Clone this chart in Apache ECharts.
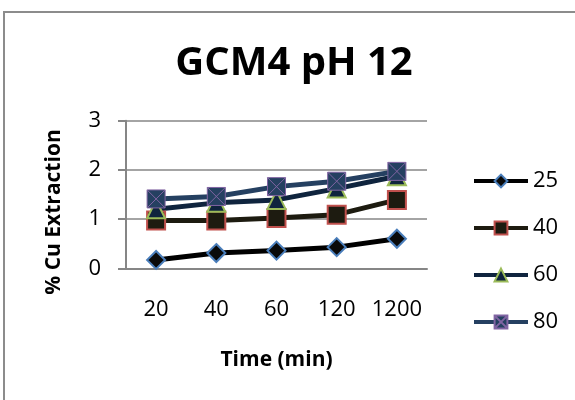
<!DOCTYPE html>
<html><head><meta charset="utf-8">
<script src="https://cdn.jsdelivr.net/npm/echarts@6/dist/echarts.min.js"></script>
<style>html,body{margin:0;padding:0;background:#fff}#c{width:575px;height:400px}</style>
</head><body><div id="c"></div>
<script>
const categories = ['20', '40', '60', '120', '1200'];
const seriesNames = ['25', '40', '60', '80'];
const s25 = [0.17, 0.31, 0.36, 0.43, 0.60];
const s40 = [0.97, 0.97, 1.02, 1.09, 1.39];
const s60 = [1.20, 1.33, 1.39, 1.62, 1.87];
const s80 = [1.41, 1.46, 1.66, 1.77, 1.97];
const yMin = 0, yMax = 3, yStep = 1;
const titleText = 'GCM4 pH 12';
const xTitle = 'Time (min)';
const yTitle = '% Cu Extraction';

const FONT = '"Open Sans", "Liberation Sans", sans-serif';
const xMarker = 'path://M0,0 L10,0 L10,10 L0,10 Z M0,0 L10,10 M10,0 L0,10';

const chart = echarts.init(document.getElementById('c'), null, {renderer: 'canvas'});
chart.setOption({
  animation: false,
  backgroundColor: '#fff',
  title: {
    text: titleText, left: 289, top: 39, textAlign: 'center',
    textStyle: {fontFamily: FONT, fontWeight: 'bold', fontSize: 40, color: '#000'}
  },
  graphic: [
    {type: 'rect', shape: {x: 4, y: 12, width: 640, height: 440}, style: {fill: 'none', stroke: '#8c8c8c', lineWidth: 2}, silent: true},
    {type: 'text', x: 54, y: 212, rotation: Math.PI / 2,
     style: {text: yTitle, font: 'bold 21px ' + FONT, fill: '#000', textAlign: 'center', textVerticalAlign: 'middle'}}
  ],
  legend: {
    orient: 'vertical', left: 467, top: 165, itemWidth: 54, itemHeight: 16, itemGap: 25,
    data: seriesNames,
    lineStyle: {width: 4},
    textStyle: {fontFamily: FONT, fontSize: 22, color: '#000'}
  },
  grid: {left: 126, right: 148, top: 120.7, bottom: 131.7, containLabel: false},
  xAxis: {
    type: 'category', data: categories, boundaryGap: true,
    name: xTitle, nameLocation: 'middle', nameGap: 81,
    nameTextStyle: {fontFamily: FONT, fontWeight: 'bold', fontSize: 21, color: '#000'},
    axisLine: {lineStyle: {color: '#868686', width: 2}},
    axisTick: {show: false},
    axisLabel: {fontFamily: FONT, fontSize: 22, color: '#000', margin: 30, interval: 0}
  },
  yAxis: {
    type: 'value', min: yMin, max: yMax, interval: yStep,
    axisLine: {show: true, lineStyle: {color: '#868686', width: 2}},
    axisTick: {show: true, length: 8, lineStyle: {color: '#868686', width: 2}},
    splitLine: {lineStyle: {color: '#868686', width: 1.5}},
    axisLabel: {fontFamily: FONT, fontSize: 22, color: '#000', margin: 25}
  },
  series: [
    {name: seriesNames[0], type: 'line', data: s25, symbol: 'diamond', symbolSize: 18,
     lineStyle: {color: '#000000', width: 5},
     itemStyle: {color: '#0a0a0a', borderColor: '#4a7ebb', borderWidth: 2}},
    {name: seriesNames[1], type: 'line', data: s40, symbol: 'rect', symbolSize: 18,
     lineStyle: {color: '#1d1b10', width: 5},
     itemStyle: {color: '#1d1b10', borderColor: '#c0504d', borderWidth: 2}},
    {name: seriesNames[2], type: 'line', data: s60, symbol: 'triangle', symbolSize: 18,
     lineStyle: {color: '#0f243e', width: 5},
     itemStyle: {color: '#0f243e', borderColor: '#9bbb59', borderWidth: 2}},
    {name: seriesNames[3], type: 'line', data: s80, symbol: xMarker, symbolSize: 18,
     lineStyle: {color: '#254061', width: 5},
     itemStyle: {color: '#254061', borderColor: '#8064a2', borderWidth: 1}}
  ]
});
</script>
</body></html>
